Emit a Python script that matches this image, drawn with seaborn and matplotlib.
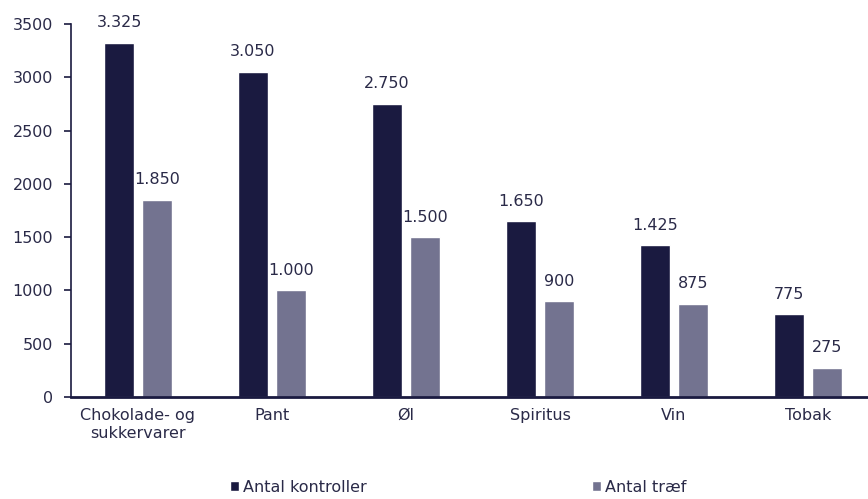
import matplotlib
matplotlib.use("Agg")
import matplotlib.pyplot as plt
import seaborn as sns
import pandas as pd

categories = ["Chokolade- og\nsukkervarer", "Pant", "Øl", "Spiritus", "Vin", "Tobak"]
antal_kontroller = [3325, 3050, 2750, 1650, 1425, 775]
antal_traef = [1850, 1000, 1500, 900, 875, 275]
series_names = ["Antal kontroller", "Antal træf"]
yticks = [0, 500, 1000, 1500, 2000, 2500, 3000, 3500]

dark = "#1a1a40"
gray = "#737390"
text_c = "#2a2a48"
fs = 11.5

sns.set_theme(style="white")
plt.rcParams["font.family"] = ["DejaVu Sans"]

df = pd.DataFrame({
    "cat": categories * 2,
    "val": antal_kontroller + antal_traef,
    "series": [series_names[0]] * len(categories) + [series_names[1]] * len(categories),
})

fig = plt.figure(figsize=(8.68, 4.99), dpi=100)
ax = fig.add_axes([71 / 868, 1 - 397 / 499, (868 - 71) / 868, (397 - 24) / 499])

sns.barplot(data=df, x="cat", y="val", hue="series", palette=[dark, gray],
            width=0.567, gap=0.21, ax=ax, saturation=1)

ax.set_ylim(0, 3500)
ax.set_xlim(-0.5, 5.5 - 7 / 134)
ax.set_yticks(yticks)
ax.set_yticklabels([str(t) for t in yticks], fontsize=fs, color=text_c)
ax.tick_params(axis="y", length=5, width=1.2, color=dark, pad=8, left=True)
ax.tick_params(axis="x", length=0, pad=8, labelsize=fs, labelcolor=text_c)
ax.set_xlabel("")
ax.set_ylabel("")
for s in ["top", "right"]:
    ax.spines[s].set_visible(False)
ax.spines["left"].set_color(dark)
ax.spines["left"].set_linewidth(1.2)
ax.spines["bottom"].set_color(dark)
ax.spines["bottom"].set_linewidth(2)

def fmt(v):
    return f"{v:,}".replace(",", ".")

for cont in ax.containers:
    ax.bar_label(cont, labels=[fmt(int(v)) for v in cont.datavalues],
                 padding=9, fontsize=fs, color=text_c)

leg = ax.legend(loc="center left", bbox_to_anchor=(0.2, -0.242), ncol=2, frameon=False,
                fontsize=fs, handlelength=0.55, handleheight=0.55, handletextpad=0.25,
                columnspacing=14.1, borderaxespad=0, borderpad=0)
for t in leg.get_texts():
    t.set_color(text_c)

fig.savefig("out.png", dpi=100)
